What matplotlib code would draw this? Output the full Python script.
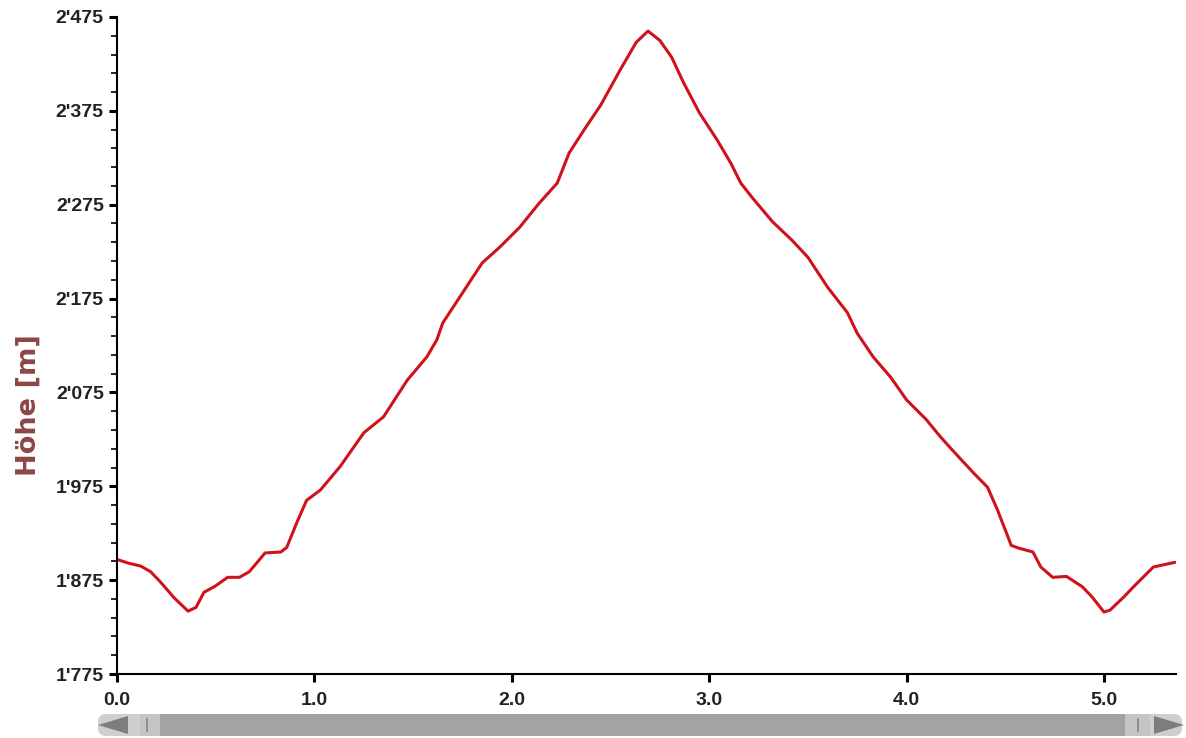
import matplotlib
matplotlib.use("Agg")
import matplotlib.pyplot as plt
from matplotlib.patches import FancyBboxPatch, Rectangle, Polygon
from matplotlib.ticker import FixedLocator, MultipleLocator, FuncFormatter

plt.rcParams['font.family'] = ['Liberation Sans', 'DejaVu Sans']

# distance [km] and elevation [m]
dist = [0.0, 0.06, 0.12, 0.17, 0.22, 0.29, 0.36, 0.40, 0.44, 0.50,
        0.56, 0.62, 0.67, 0.75, 0.83, 0.86, 0.91, 0.96, 1.03, 1.13,
        1.25, 1.35, 1.47, 1.57, 1.62, 1.65, 1.75, 1.85, 1.94, 2.04,
        2.14, 2.23, 2.29, 2.37, 2.45, 2.55, 2.63, 2.69, 2.75, 2.81,
        2.87, 2.95, 3.04, 3.11, 3.16, 3.22, 3.32, 3.42, 3.50, 3.60,
        3.70, 3.75, 3.83, 3.92, 4.00, 4.10, 4.17, 4.23, 4.34, 4.41,
        4.46, 4.51, 4.53, 4.57, 4.64, 4.68, 4.74, 4.81, 4.89, 4.94,
        5.00, 5.03, 5.10, 5.15, 5.25, 5.36]
elev = [1897, 1893, 1890, 1884, 1873, 1856, 1842, 1846, 1862, 1869,
        1878, 1878, 1884, 1904, 1905, 1910, 1936, 1960, 1971, 1996,
        2032, 2049, 2088, 2113, 2131, 2149, 2181, 2213, 2230, 2251,
        2277, 2298, 2330, 2356, 2381, 2419, 2448, 2460, 2450, 2432,
        2405, 2373, 2344, 2319, 2298, 2282, 2257, 2237, 2219, 2187,
        2160, 2138, 2113, 2091, 2067, 2046, 2028, 2014, 1989, 1974,
        1950, 1923, 1912, 1909, 1905, 1889, 1878, 1879, 1868, 1857,
        1841, 1843, 1857, 1868, 1889, 1894]

fig = plt.figure(figsize=(11.86, 7.38), dpi=100)
ax = fig.add_axes([0.0987, 0.0867, 0.8929, 0.8903])
ax.plot(dist, elev, color='#d0121b', lw=2.2, solid_joinstyle='round',
        solid_capstyle='round')

ax.set_xlim(0, 5.365)
ax.set_ylim(1775, 2475)
for s in ['top', 'right']:
    ax.spines[s].set_visible(False)
for s in ['left', 'bottom']:
    ax.spines[s].set_linewidth(1.5)

ax.xaxis.set_major_locator(MultipleLocator(1.0))
ax.xaxis.set_major_formatter(FuncFormatter(lambda v, p: f"{v:.1f}"))
ax.yaxis.set_major_locator(FixedLocator([1775 + 100 * i for i in range(8)]))
ax.yaxis.set_minor_locator(FixedLocator([1775 + 20 * i for i in range(36)]))
ax.yaxis.set_major_formatter(
    FuncFormatter(lambda v, p: f"{int(v) // 1000}'{int(v) % 1000:03d}"))
ax.tick_params(axis='both', which='major', length=6, width=2.2,
               labelsize=14, direction='out')
ax.tick_params(axis='y', which='minor', length=4, width=1.2)
for lbl in ax.get_xticklabels() + ax.get_yticklabels():
    lbl.set_fontweight('bold')
    lbl.set_color('#222222')
ax.tick_params(axis='x', pad=7)

ax.set_ylabel("Höhe [m]", fontsize=19.5, fontweight='bold', color='#8e4646',
              family='DejaVu Sans')
ax.yaxis.set_label_coords(-0.0708, 0.409)

# scrollbar below the axis
sb = fig.add_axes([0.0, 0.0, 1.0, 1.0], zorder=-1)
sb.set_xlim(0, 1186)
sb.set_ylim(738, 0)
sb.axis('off')
sb.add_patch(FancyBboxPatch((100, 716), 1080, 18,
                            boxstyle="round,pad=2,rounding_size=8",
                            fc='#cfcfcf', ec='none'))
sb.add_patch(Rectangle((140, 714), 990, 22, fc='#a3a3a3', ec='none'))
sb.add_patch(Rectangle((140, 714), 20, 22, fc='#c4c4c4', ec='none'))
sb.add_patch(Rectangle((1125, 714), 25, 22, fc='#c4c4c4', ec='none'))
sb.add_patch(Rectangle((146, 718), 2, 14, fc='#8f8f8f', ec='none'))
sb.add_patch(Rectangle((1137, 718), 2, 14, fc='#8f8f8f', ec='none'))
sb.add_patch(Polygon([[98, 725], [128, 716], [128, 734]],
                     closed=True, fc='#7d7d7d', ec='none'))
sb.add_patch(Polygon([[1184, 725], [1154, 716], [1154, 734]],
                     closed=True, fc='#7d7d7d', ec='none'))

fig.savefig("out.png", dpi=100)
